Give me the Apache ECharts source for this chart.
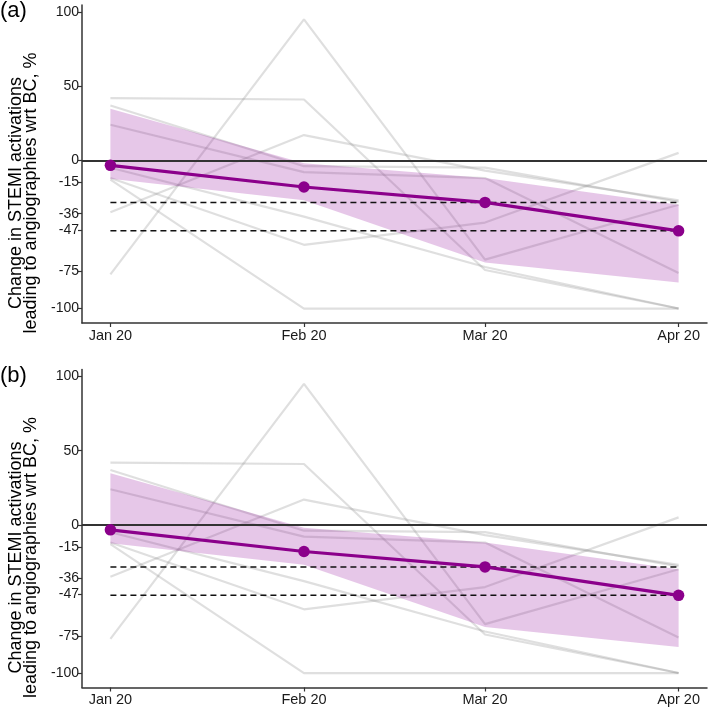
<!DOCTYPE html>
<html><head><meta charset="utf-8">
<script src="https://cdn.jsdelivr.net/npm/echarts@6/dist/echarts.min.js"></script>
<style>html,body{margin:0;padding:0;background:#fff}#c{width:709px;height:711px}</style>
</head><body><div id="c"></div>
<script>
// ---- data ----
const monthLabels = ['Jan 20', 'Feb 20', 'Mar 20', 'Apr 20'];
const monthDays = [0, 31, 60, 91];            // days since 1 Jan 2020
const yTicks = [100, 50, 0, -15, -36, -47, -75, -100];
const meanValues = [-3.4, -18, -28.4, -47.6];
const ciLower = [-12.5, -27, -69, -82.5];
const ciUpper = [34.7, -2, -12, -30];
const refValues = [-28.4, -47.6];
const region1 = [42, 41, -74, -100];
const region2 = [-77, 95, -67, -30];
const region3 = [-35, 17, -7, -27];
const region4 = [37, -4, -5, -28];
const region5 = [24, -8, -12, -76];
const region6 = [-13, -100, -100, -100];
const region7 = [-12, -57, -42, 5];
const region8 = [-5, -38, -72, -100];
const regions = [region1, region2, region3, region4, region5, region6, region7, region8];
const panelLabels = ['(a)', '(b)'];
const yTitle = 'Change in STEMI activations\nleading to angiographies wrt BC, %';

// ---- chart ----
const FONT = 'Liberation Sans, Arial, sans-serif';
const tops = [5, 369.5];
const H = 318;
const toPts = arr => monthDays.map((d, i) => [d, arr[i]]);

const grids = [], xAxes = [], yAxes = [], series = [], graphics = [];
tops.forEach((top, p) => {
  grids.push({ left: 82, width: 625, top: top, height: H, containLabel: false, outerBoundsMode: 'none' });
  xAxes.push({
    type: 'value', gridIndex: p, min: -4.55, max: 95.55,
    axisLine: { onZero: false, lineStyle: { color: '#333', width: 1.5 } },
    axisTick: { length: 4, customValues: monthDays, lineStyle: { color: '#333', width: 1.2 } },
    axisLabel: { customValues: monthDays, margin: 5, fontSize: 14.5, color: '#1a1a1a', fontFamily: FONT,
      formatter: v => monthLabels[monthDays.indexOf(v)] || '' },
    splitLine: { show: false }
  });
  yAxes.push({
    type: 'value', gridIndex: p, min: -109.75, max: 104.75,
    name: yTitle, nameLocation: 'middle', nameRotate: 90, nameGap: 40,
    nameTextStyle: { fontSize: 18, lineHeight: 15.5, color: '#000', fontFamily: FONT, align: 'center',
      padding: [0, 58, 0, 0] },
    axisLine: { onZero: false, lineStyle: { color: '#333', width: 1.5 } },
    axisTick: { length: 4, customValues: yTicks, lineStyle: { color: '#333', width: 1.2 } },
    axisLabel: { customValues: yTicks, margin: 3, fontSize: 14, color: '#1a1a1a', fontFamily: FONT },
    splitLine: { show: false }
  });
  regions.forEach(r => series.push({
    type: 'line', xAxisIndex: p, yAxisIndex: p, data: toPts(r), symbol: 'none', silent: true,
    lineStyle: { color: 'rgba(140,140,140,0.28)', width: 2.2 }, z: 1
  }));
  series.push({
    type: 'custom', xAxisIndex: p, yAxisIndex: p, silent: true, z: 2,
    data: monthDays.map((d, i) => [d, ciLower[i], ciUpper[i]]),
    encode: { x: 0, y: [1, 2] },
    renderItem: (params, api) => {
      if (params.dataIndex !== 0) return null;
      const up = monthDays.map((d, i) => api.coord([d, ciUpper[i]]));
      const lo = monthDays.map((d, i) => api.coord([d, ciLower[i]])).reverse();
      return { type: 'polygon', shape: { points: up.concat(lo) },
        style: { fill: 'rgba(150,20,160,0.24)' } };
    }
  });
  series.push({
    type: 'line', xAxisIndex: p, yAxisIndex: p, data: [], silent: true, z: 3,
    markLine: { silent: true, symbol: 'none', label: { show: false }, animation: false,
      lineStyle: { color: '#333', width: 1.8, type: 'solid' }, data: [{ yAxis: 0 }] }
  });
  refValues.forEach(v => series.push({
    type: 'line', xAxisIndex: p, yAxisIndex: p, data: [[monthDays[0], v], [monthDays[3], v]],
    symbol: 'none', silent: true, lineStyle: { color: '#111', width: 1.5, type: [6, 4] }, z: 3
  }));
  series.push({
    type: 'line', xAxisIndex: p, yAxisIndex: p, data: toPts(meanValues),
    symbol: 'circle', symbolSize: 11.5, silent: true,
    itemStyle: { color: '#8B008B' }, lineStyle: { color: '#8B008B', width: 3.2 }, z: 5
  });
  graphics.push({ type: 'text', left: 0, top: top - 5,
    style: { text: panelLabels[p], fontSize: 22, fill: '#000', fontFamily: FONT } });
});

const chart = echarts.init(document.getElementById('c'), null, { renderer: 'canvas' });
chart.setOption({
  animation: false,
  backgroundColor: '#fff',
  grid: grids, xAxis: xAxes, yAxis: yAxes, series: series, graphic: graphics
});
</script>
</body></html>
